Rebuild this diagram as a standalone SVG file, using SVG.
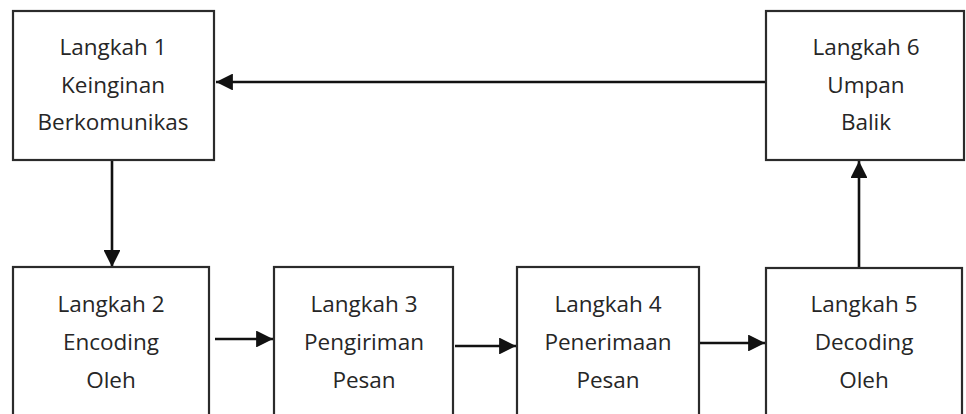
<svg xmlns="http://www.w3.org/2000/svg" width="966" height="414" viewBox="0 0 966 414">
<defs>
<style>
.box{fill:#fff;stroke:#2b2b2b;stroke-width:2.2}
.t{font-family:"Open Sans","Noto Sans",sans-serif;font-size:22.5px;fill:#262626;text-anchor:middle}
.c{stroke:#111;stroke-width:2.6;fill:none}
</style>
<marker id="ah" viewBox="0 0 10 10" refX="10" refY="5" markerWidth="6.5" markerHeight="6.5" markerUnits="strokeWidth" orient="auto">
<path d="M0,0 L10,5 L0,10 z" fill="#111"/>
</marker>
</defs>
<rect width="966" height="414" fill="#fff"/>
<g id="connectors">
<line class="c" x1="766" y1="82" x2="216" y2="82" marker-end="url(#ah)"/>
<line class="c" x1="112" y1="160" x2="112" y2="267" marker-end="url(#ah)"/>
<line class="c" x1="215" y1="339" x2="273" y2="339" marker-end="url(#ah)"/>
<line class="c" x1="455" y1="346" x2="516" y2="346" marker-end="url(#ah)"/>
<line class="c" x1="700" y1="343" x2="765" y2="343" marker-end="url(#ah)"/>
<line class="c" x1="859" y1="268" x2="859" y2="161" marker-end="url(#ah)"/>
</g>
<g id="n1">
<rect class="box" x="13" y="11" width="201" height="149"/>
<text class="t" x="113" y="55">Langkah 1</text>
<text class="t" x="113" y="93">Keinginan</text>
<text class="t" x="113" y="130">Berkomunikas</text>
</g>
<g id="n6">
<rect class="box" x="766" y="11" width="198" height="149"/>
<text class="t" x="866" y="55">Langkah 6</text>
<text class="t" x="866" y="93">Umpan</text>
<text class="t" x="866" y="130">Balik</text>
</g>
<g id="n2">
<rect class="box" x="13" y="267" width="196" height="160"/>
<text class="t" x="111" y="312">Langkah 2</text>
<text class="t" x="111" y="350">Encoding</text>
<text class="t" x="111" y="388">Oleh</text>
</g>
<g id="n3">
<rect class="box" x="274" y="267" width="179" height="160"/>
<text class="t" x="364" y="312">Langkah 3</text>
<text class="t" x="364" y="350">Pengiriman</text>
<text class="t" x="364" y="388">Pesan</text>
</g>
<g id="n4">
<rect class="box" x="517" y="267" width="182" height="160"/>
<text class="t" x="608" y="312">Langkah 4</text>
<text class="t" x="608" y="350">Penerimaan</text>
<text class="t" x="608" y="388">Pesan</text>
</g>
<g id="n5">
<rect class="box" x="766" y="268" width="196" height="160"/>
<text class="t" x="864" y="312">Langkah 5</text>
<text class="t" x="864" y="350">Decoding</text>
<text class="t" x="864" y="388">Oleh</text>
</g>
</svg>
